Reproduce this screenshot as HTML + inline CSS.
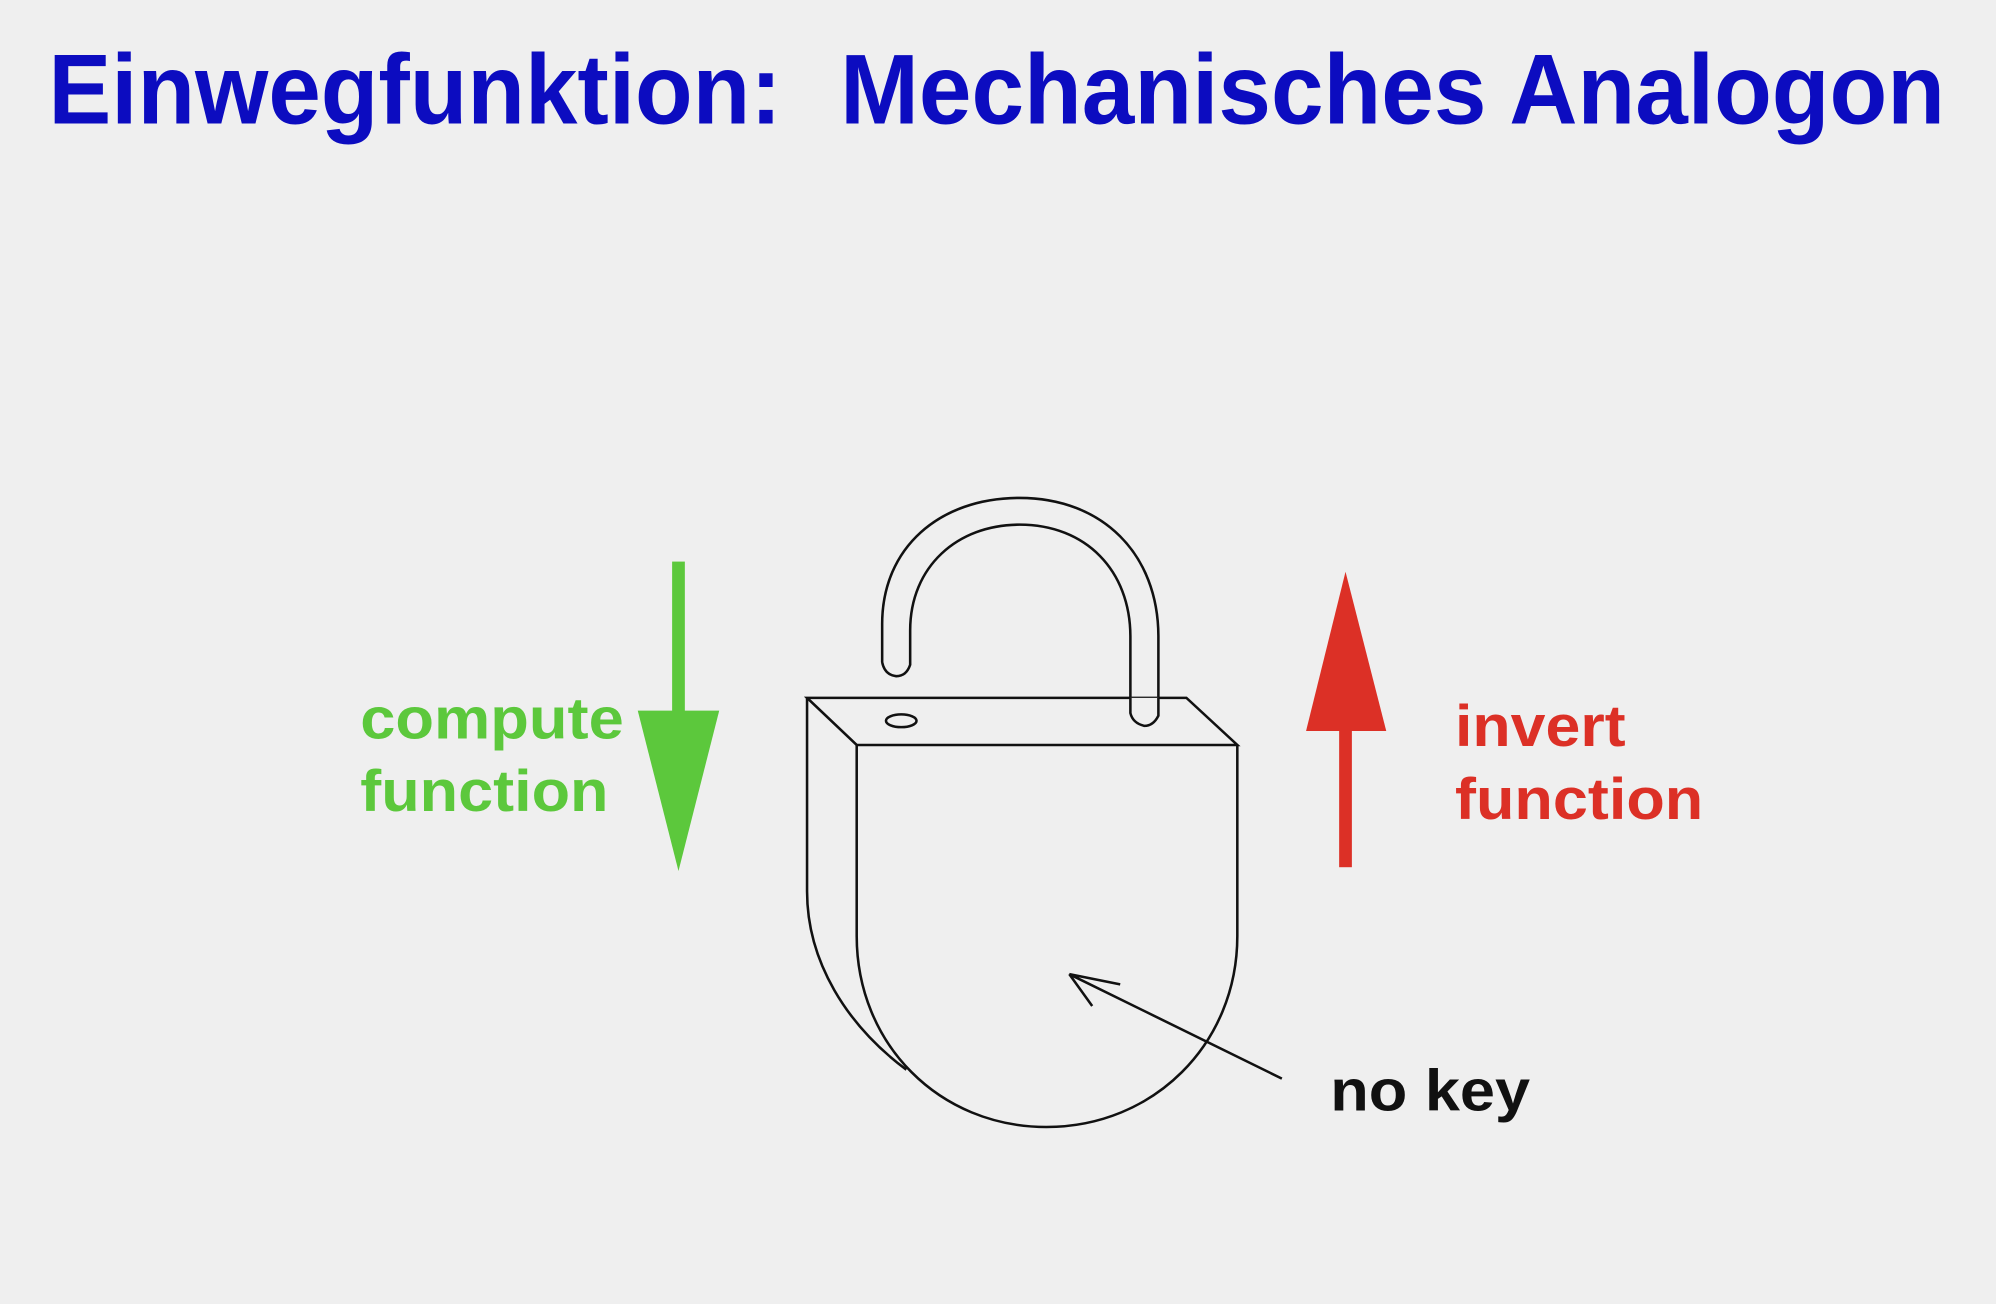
<!DOCTYPE html>
<html><head><meta charset="utf-8"><style>
html,body{margin:0;padding:0;background:#efefef;}
svg{display:block;}
text{font-family:"Liberation Sans",Arial,sans-serif;font-weight:bold;}
</style></head><body>
<svg width="1996" height="1304" viewBox="0 0 1568 1024" preserveAspectRatio="none" xmlns="http://www.w3.org/2000/svg">
<rect width="1568" height="1024" fill="#efefef"/>
<text x="38" y="97" font-size="78" fill="#0c0cc0" textLength="576" lengthAdjust="spacingAndGlyphs">Einwegfunktion:</text>
<text x="660" y="97" font-size="78" fill="#0c0cc0" textLength="868" lengthAdjust="spacingAndGlyphs">Mechanisches Analogon</text>
<!-- green arrow -->
<rect x="528" y="441" width="10" height="120" fill="#5cc83c"/>
<polygon points="501,558 565,558 533,684" fill="#5cc83c"/>
<text x="283" y="580" font-size="46" fill="#5cc83c" textLength="207" lengthAdjust="spacingAndGlyphs">compute</text>
<text x="283" y="637" font-size="46" fill="#5cc83c" textLength="195" lengthAdjust="spacingAndGlyphs">function</text>
<!-- red arrow -->
<polygon points="1057,449 1026,574 1089,574" fill="#dc3026"/>
<rect x="1052" y="570" width="10" height="111" fill="#dc3026"/>
<text x="1143" y="586" font-size="46" fill="#dc3026" textLength="134" lengthAdjust="spacingAndGlyphs">invert</text>
<text x="1143" y="643" font-size="46" fill="#dc3026" textLength="195" lengthAdjust="spacingAndGlyphs">function</text>
<!-- padlock -->
<g fill="none" stroke="#111" stroke-width="2">
<path d="M693,520 L693,490 C693,430 738,391 801,391 C866,391 910,435 910,500 L910,562 Q906,570 899,570 Q890,568 888,560 L888,500 C888,448 853,412 801,412 C752,412 715,445 715,495 L715,522 Q712,531 704,531 Q695,530 693,520"/>
<path d="M634,548 L932,548 L972,585 L673,585 Z" fill="#efefef"/>
<path d="M888,548 L888,560 Q890,568 899,570 Q906,570 910,562 L910,548" fill="#efefef"/>
<ellipse cx="708" cy="566" rx="12" ry="5"/>
<path d="M673,585 L673,735 C673,820 738,885 822,885 C906,885 972,820 972,735 L972,585"/>
<path d="M634,548 L634,700 C634,755 665,805 712,840"/>
<path d="M1007,847 L840,765 M840,765 L880,773 M840,765 L858,790"/>
</g>
<text x="1045" y="872" font-size="46" fill="#111" textLength="157" lengthAdjust="spacingAndGlyphs">no key</text>
</svg>
</body></html>
